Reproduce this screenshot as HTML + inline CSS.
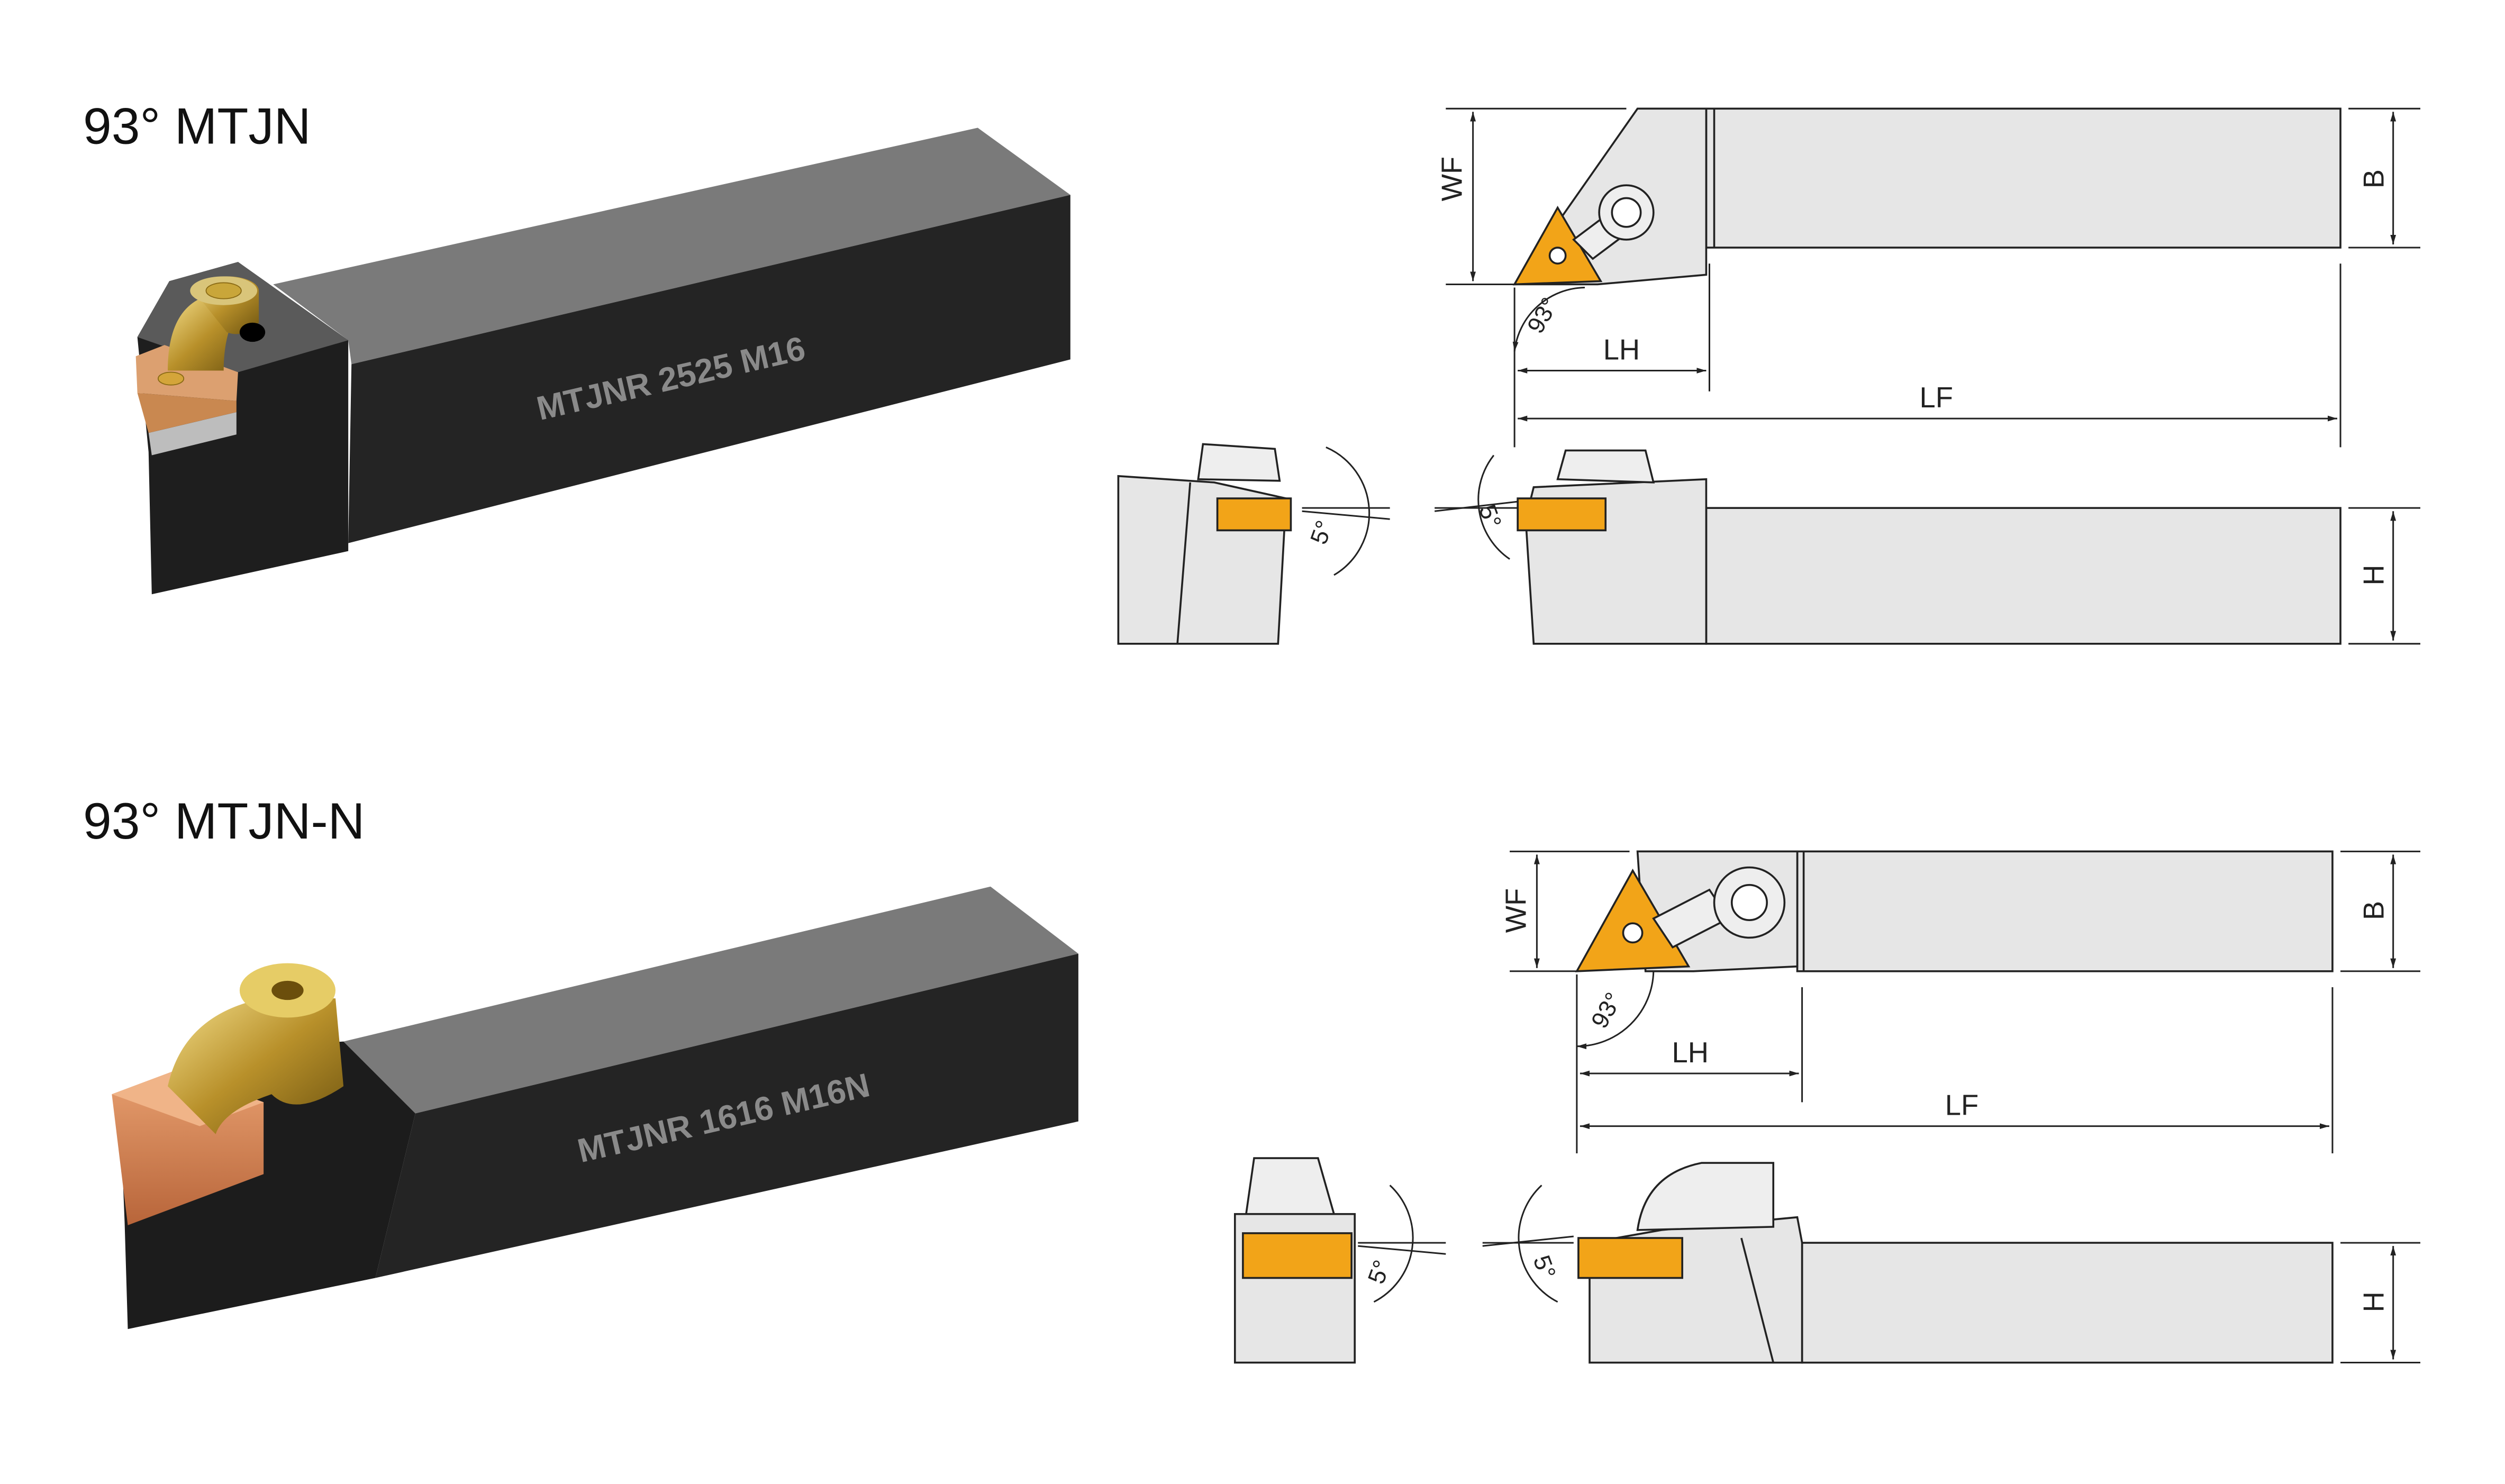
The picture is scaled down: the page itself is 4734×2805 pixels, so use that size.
<!DOCTYPE html>
<html><head><meta charset="utf-8"><style>
html,body{margin:0;padding:0;background:#fff}
svg{display:block}
text{font-family:"Liberation Sans",sans-serif}
</style></head><body>
<svg width="4734" height="2805" viewBox="0 0 1568 929" preserveAspectRatio="none" xmlns="http://www.w3.org/2000/svg">
<defs>
<marker id="a" viewBox="0 0 10 10" refX="10" refY="5" markerWidth="6" markerHeight="6" orient="auto-start-reverse"><path d="M0,2L10,5L0,8z" fill="#222"/></marker>
<linearGradient id="gold" x1="0" y1="0" x2="1" y2="1"><stop offset="0" stop-color="#f3de8a"/><stop offset="0.5" stop-color="#b8902a"/><stop offset="1" stop-color="#6e5410"/></linearGradient>
<linearGradient id="cu" x1="0" y1="0" x2="0" y2="1"><stop offset="0" stop-color="#e8a070"/><stop offset="1" stop-color="#b8653a"/></linearGradient>
</defs>
<rect width="1570" height="930" fill="#fff"/>

<text x="52" y="90" font-size="32" fill="#111">93° MTJN</text>
<text x="52" y="525" font-size="32" fill="#111">93° MTJN-N</text>

<polygon points="171,178 612,80 670,122 220,228 218,213" fill="#7a7a7a"/>
<polygon points="220,228 670,122 670,225 218,340" fill="#242424"/>
<polygon points="86,211 106,176 149,164 218,213 218,345 95,372 93,283" fill="#1e1e1e"/>
<polygon points="86,211 106,176 149,164 218,213 149,233" fill="#5a5a5a"/>
<polygon points="93,271 148,258 148,272 95,285" fill="#bdbdbd"/>
<polygon points="85,223 103,216 149,233 148,251 86,246" fill="#dca070"/>
<polygon points="86,246 148,251 148,258 93,271" fill="#c98850"/>
<path d="M105,232 q0,-35 20,-45 l30,0 q-15,15 -15,45z" fill="url(#gold)"/>
<path d="M122,183 l0,-1 a20,9 0 0 1 40,0 l0,20 q-10,10 -20,6z" fill="url(#gold)"/>
<ellipse cx="140" cy="182" rx="21" ry="9" fill="#d9c57a"/>
<ellipse cx="140" cy="182" rx="11" ry="5" fill="#c9a63a" stroke="#8a6a14" stroke-width="0.6"/>
<ellipse cx="107" cy="237" rx="8" ry="4" fill="#d4a53a" stroke="#8a6a14" stroke-width="0.6"/>
<ellipse cx="158" cy="208" rx="8" ry="6" fill="#000"/>
<text x="420" y="244" font-size="21" font-weight="bold" fill="#8a8a8a" text-anchor="middle" transform="rotate(-13 420 237)">MTJNR 2525 M16</text>

<polygon points="215,652 620,555 675,597 260,697" fill="#7a7a7a"/>
<polygon points="260,697 675,597 675,702 235,800" fill="#242424"/>
<polygon points="75,690 165,655 215,652 260,697 235,800 80,832 78,765" fill="#1c1c1c"/>
<polygon points="70,685 110,670 165,690 165,735 80,767" fill="url(#cu)"/>
<polygon points="70,685 110,670 165,690 125,705" fill="#f0b488"/>
<path d="M105,680 q10,-45 60,-55 l45,0 l5,55 q-30,20 -45,5 q-30,10 -35,25z" fill="url(#gold)"/>
<ellipse cx="180" cy="620" rx="30" ry="17" fill="#e6cc66"/>
<ellipse cx="180" cy="620" rx="10" ry="6" fill="#6b4e0c"/>
<text x="453" y="707" font-size="21" font-weight="bold" fill="#8a8a8a" text-anchor="middle" transform="rotate(-13 453 700)">MTJNR 1616 M16N</text>

<g stroke="#222" stroke-width="1.2" fill="#e6e6e6">
<rect x="1068" y="68" width="397" height="87"/>
<line x1="1073" y1="68" x2="1073" y2="155"/>
<polygon points="948,178 1025,68 1068,68 1068,172 1000,178"/>
<polygon points="948,178 975,130 1002,176" fill="#f2a418"/>
<circle cx="975" cy="160" r="5" fill="#fff"/>
<path d="M985,150 l20,-15 l12,12 l-20,15z" fill="#eee"/>
<circle cx="1018" cy="133" r="17" fill="#eee"/><circle cx="1018" cy="133" r="9" fill="#fff"/>
<rect x="1068" y="318" width="397" height="85"/>
<polygon points="955,325 960,305 1068,300 1068,403 960,403"/>
<path d="M975,300 l5,-18 l50,0 l5,20z" fill="#eee"/>
<rect x="950" y="312" width="55" height="20" fill="#f2a418"/>
<polygon points="700,298 760,302 805,312 800,403 700,403"/>
<line x1="745" y1="302" x2="737" y2="403"/>
<path d="M750,300 l3,-22 l45,3 l3,20z" fill="#eee"/>
<rect x="762" y="312" width="46" height="20" fill="#f2a418"/>

<rect x="1125" y="533" width="335" height="75"/>
<line x1="1129" y1="533" x2="1129" y2="608"/>
<polygon points="1025,533 1125,533 1125,605 1060,608 1030,608"/>
<polygon points="987,608 1022,545 1057,605" fill="#f2a418"/>
<circle cx="1022" cy="584" r="6" fill="#fff"/>
<path d="M1035,575 l35,-18 l12,18 l-35,18z" fill="#eee"/>
<circle cx="1095" cy="565" r="22" fill="#eee"/><circle cx="1095" cy="565" r="11" fill="#fff"/>
<polygon points="1128,778 1460,778 1460,853 1128,853"/>
<polygon points="995,778 1040,770 1125,762 1128,778 1128,853 995,853"/>
<line x1="1090" y1="775" x2="1110" y2="853"/>
<path d="M1025,770 q5,-35 40,-42 l45,0 l0,40z" fill="#eee"/>
<rect x="988" y="775" width="65" height="25" fill="#f2a418"/>
<rect x="773" y="760" width="75" height="93"/>
<path d="M780,760 l5,-35 l40,0 l10,35z" fill="#eee"/>
<rect x="778" y="772" width="68" height="28" fill="#f2a418"/>
</g>

<g stroke="#222" stroke-width="1" fill="none">
<line x1="905" y1="68" x2="1018" y2="68"/><line x1="905" y1="178" x2="948" y2="178"/>
<line x1="922" y1="70" x2="922" y2="176" marker-start="url(#a)" marker-end="url(#a)"/>
<line x1="1470" y1="68" x2="1515" y2="68"/><line x1="1470" y1="155" x2="1515" y2="155"/>
<line x1="1498" y1="70" x2="1498" y2="153" marker-start="url(#a)" marker-end="url(#a)"/>
<line x1="948" y1="180" x2="948" y2="280"/><line x1="1070" y1="165" x2="1070" y2="245"/><line x1="1465" y1="165" x2="1465" y2="280"/>
<line x1="950" y1="232" x2="1068" y2="232" marker-start="url(#a)" marker-end="url(#a)"/>
<line x1="950" y1="262" x2="1463" y2="262" marker-start="url(#a)" marker-end="url(#a)"/>
<path d="M948,220 A45,45 0 0 1 992,180" marker-start="url(#a)"/>
<line x1="1470" y1="318" x2="1515" y2="318"/><line x1="1470" y1="403" x2="1515" y2="403"/>
<line x1="1498" y1="320" x2="1498" y2="401" marker-start="url(#a)" marker-end="url(#a)"/>
<path d="M830,280 A45,45 0 0 1 835,360"/><line x1="815" y1="318" x2="870" y2="318"/><line x1="815" y1="320" x2="870" y2="325"/>
<path d="M935,285 A45,45 0 0 0 945,350"/><line x1="898" y1="318" x2="950" y2="318"/><line x1="898" y1="320" x2="950" y2="314"/>

<line x1="945" y1="533" x2="1020" y2="533"/><line x1="945" y1="608" x2="987" y2="608"/>
<line x1="962" y1="535" x2="962" y2="606" marker-start="url(#a)" marker-end="url(#a)"/>
<line x1="1465" y1="533" x2="1515" y2="533"/><line x1="1465" y1="608" x2="1515" y2="608"/>
<line x1="1498" y1="535" x2="1498" y2="606" marker-start="url(#a)" marker-end="url(#a)"/>
<line x1="987" y1="610" x2="987" y2="722"/><line x1="1128" y1="618" x2="1128" y2="690"/><line x1="1460" y1="618" x2="1460" y2="722"/>
<line x1="989" y1="672" x2="1126" y2="672" marker-start="url(#a)" marker-end="url(#a)"/>
<line x1="989" y1="705" x2="1458" y2="705" marker-start="url(#a)" marker-end="url(#a)"/>
<path d="M987,655 A48,48 0 0 0 1035,608" marker-start="url(#a)"/>
<line x1="1465" y1="778" x2="1515" y2="778"/><line x1="1465" y1="853" x2="1515" y2="853"/>
<line x1="1498" y1="780" x2="1498" y2="851" marker-start="url(#a)" marker-end="url(#a)"/>
<path d="M870,742 A45,45 0 0 1 860,815"/><line x1="850" y1="778" x2="905" y2="778"/><line x1="850" y1="780" x2="905" y2="785"/>
<path d="M965,742 A45,45 0 0 0 975,815"/><line x1="928" y1="778" x2="985" y2="778"/><line x1="928" y1="780" x2="985" y2="774"/>
</g>
<g font-size="18" fill="#222">
<text x="915" y="112" transform="rotate(-90 915 112)" text-anchor="middle">WF</text>
<text x="1492" y="112" transform="rotate(-90 1492 112)" text-anchor="middle">B</text>
<text x="1015" y="225" text-anchor="middle">LH</text>
<text x="1212" y="255" text-anchor="middle">LF</text>
<text x="970" y="200" font-size="15" transform="rotate(-60 970 200)" text-anchor="middle">93°</text>
<text x="1492" y="360" transform="rotate(-90 1492 360)" text-anchor="middle">H</text>
<text x="832" y="335" font-size="15" transform="rotate(-70 832 335)" text-anchor="middle">5°</text>
<text x="928" y="325" font-size="15" transform="rotate(70 928 325)" text-anchor="middle">5°</text>
<text x="955" y="570" transform="rotate(-90 955 570)" text-anchor="middle">WF</text>
<text x="1492" y="570" transform="rotate(-90 1492 570)" text-anchor="middle">B</text>
<text x="1058" y="665" text-anchor="middle">LH</text>
<text x="1228" y="698" text-anchor="middle">LF</text>
<text x="1010" y="635" font-size="15" transform="rotate(-60 1010 635)" text-anchor="middle">93°</text>
<text x="1492" y="815" transform="rotate(-90 1492 815)" text-anchor="middle">H</text>
<text x="868" y="798" font-size="15" transform="rotate(-70 868 798)" text-anchor="middle">5°</text>
<text x="962" y="795" font-size="15" transform="rotate(70 962 795)" text-anchor="middle">5°</text>
</g>
</svg>
</body></html>
